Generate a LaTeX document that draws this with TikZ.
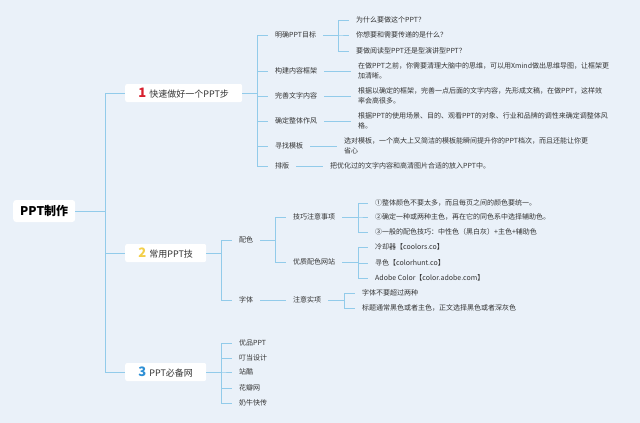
\documentclass[tikz,border=0pt]{standalone}
\usepackage{fontspec}
\setmainfont{Noto Sans CJK SC}
\definecolor{bg}{HTML}{EAF1F9}
\definecolor{lineblue}{HTML}{92CBEA}
\definecolor{txt}{HTML}{333333}
\definecolor{nred}{HTML}{D7202E}
\definecolor{nyel}{HTML}{F3CF4A}
\definecolor{nblu}{HTML}{2D8FD5}
\newcommand\bignumfont{\fontsize{13}{13}\selectfont\bfseries}
\tikzset{
  conn/.style={draw=lineblue, line width=0.8pt},
  lbl/.style={anchor=west, inner xsep=7pt, inner ysep=1pt, align=left, text=txt,
    font=\fontsize{7}{10.5}\selectfont},
  branchbox/.style={anchor=west, fill=white, rounded corners=2pt, minimum height=18pt,
    inner sep=0pt, text=txt, font=\fontsize{9}{11}\selectfont},
  rootbox/.style={anchor=west, fill=white, rounded corners=3pt, minimum height=22pt,
    minimum width=62pt, inner sep=0pt, text=black, font=\fontsize{12}{14}\selectfont\bfseries}
}
\begin{document}
\begin{tikzpicture}[x=1pt,y=-1pt]
\fill[bg] (0,0) rectangle (640,423);
\useasboundingbox (0,0) rectangle (640,423);
% bracket x coordinates
\coordinate (tr) at (105,0);
\coordinate (k1) at (257,0);
\coordinate (k11) at (338,0);
\coordinate (k2) at (221,0);
\coordinate (k21) at (275,0);
\coordinate (k211) at (358,0);
\coordinate (k221) at (344,0);
% root and branches
\node[rootbox] (root) at (13,211) {PPT制作};
\node[branchbox, minimum width=117pt] (b1) at (125,93) {{\color{nred}\bignumfont 1}\hspace{3pt}快速做好一个PPT步};
\node[branchbox, minimum width=81pt] (b2) at (125,253) {{\color{nyel}\bignumfont 2}\hspace{3pt}常用PPT技};
\node[branchbox, minimum width=81pt] (b3) at (125,372) {{\color{nblu}\bignumfont 3}\hspace{3pt}PPT必备网};
% branch 1
\node[lbl] (n11) at (268,35) {明确PPT目标};
\node[lbl] (n12) at (268,71) {构建内容框架};
\node[lbl] (n13) at (268,96) {完善文字内容};
\node[lbl] (n14) at (268,121) {确定整体作风};
\node[lbl] (n15) at (268,146) {寻找模板};
\node[lbl] (n16) at (268,166) {排版};
\node[lbl] (n111) at (349,20) {为什么要做这个PPT？};
\node[lbl] (n112) at (349,35) {你想要和需要传递的是什么？};
\node[lbl] (n113) at (349,51) {要做阅读型PPT还是型演讲型PPT？};
\node[lbl] (n121) at (351,71) {在做PPT之前，你需要清理大脑中的思维，可以用Xmind做出思维导图，让框架更\\加清晰。};
\node[lbl] (n131) at (351,96) {根据以确定的框架，完善一点后面的文字内容，先形成文稿，在做PPT，这样效\\率会高很多。};
\node[lbl] (n141) at (351,121) {根据PPT的使用场景、目的、观看PPT的对象、行业和品牌的调性来确定调整体风\\格。};
\node[lbl] (n151) at (337,146) {选对模板，一个高大上又简洁的模板能瞬间提升你的PPT档次，而且还能让你更\\省心};
\node[lbl] (n161) at (323,166) {把优化过的文字内容和高清图片合适的放入PPT中。};
% branch 2
\node[lbl] (n21) at (232,240) {配色};
\node[lbl] (n22) at (232,300) {字体};
\node[lbl] (n211) at (286,217) {技巧注意事项};
\node[lbl] (n212) at (286,262) {优质配色网站};
\node[lbl] (n221) at (286,300) {注意实项};
\node[lbl] (n2111) at (368,203) {①整体颜色不要太多，而且每页之间的颜色要统一。};
\node[lbl] (n2112) at (368,217) {②确定一种或两种主色，再在它的同色系中选择辅助色。};
\node[lbl] (n2113) at (368,232) {③一般的配色技巧：中性色（黑白灰）+主色+辅助色};
\node[lbl] (n2121) at (368,247) {冷却器【coolors.co】};
\node[lbl] (n2122) at (368,263) {寻色【colorhunt.co】};
\node[lbl] (n2123) at (368,278) {Adobe Color【color.adobe.com】};
\node[lbl] (n2211) at (355,293) {字体不要超过两种};
\node[lbl] (n2212) at (355,308) {标题通常黑色或者主色，正文选择黑色或者深灰色};
% branch 3
\node[lbl] (n31) at (232,343) {优品PPT};
\node[lbl] (n32) at (232,358) {叮当设计};
\node[lbl] (n33) at (232,372) {站酷};
\node[lbl] (n34) at (232,388) {花瓣网};
\node[lbl] (n35) at (232,403) {奶牛快传};
% connectors: root to branches
\foreach \b in {b1,b2,b3}
  \draw[conn] (root.east) -- (root.east -| tr) |- (\b.west);
% branch 1 connectors
\foreach \c in {n11,n12,n13,n14,n15,n16}
  \draw[conn] (b1.east) -- (b1.east -| k1) |- (\c.west);
\foreach \c in {n111,n112,n113}
  \draw[conn] (n11.east) -- (n11.east -| k11) |- (\c.west);
\draw[conn] (n12.east) -- (n121.west);
\draw[conn] (n13.east) -- (n131.west);
\draw[conn] (n14.east) -- (n141.west);
\draw[conn] (n15.east) -- (n151.west);
\draw[conn] (n16.east) -- (n161.west);
% branch 2 connectors
\foreach \c in {n21,n22}
  \draw[conn] (b2.east) -- (b2.east -| k2) |- (\c.west);
\foreach \c in {n211,n212}
  \draw[conn] (n21.east) -- (n21.east -| k21) |- (\c.west);
\foreach \c in {n2111,n2112,n2113}
  \draw[conn] (n211.east) -- (n211.east -| k211) |- (\c.west);
\foreach \c in {n2121,n2122,n2123}
  \draw[conn] (n212.east) -- (n212.east -| k211) |- (\c.west);
\draw[conn] (n22.east) -- (n221.west);
\foreach \c in {n2211,n2212}
  \draw[conn] (n221.east) -- (n221.east -| k221) |- (\c.west);
% branch 3 connectors
\foreach \c in {n31,n32,n33,n34,n35}
  \draw[conn] (b3.east) -- (b3.east -| k2) |- (\c.west);
\end{tikzpicture}
\end{document}
